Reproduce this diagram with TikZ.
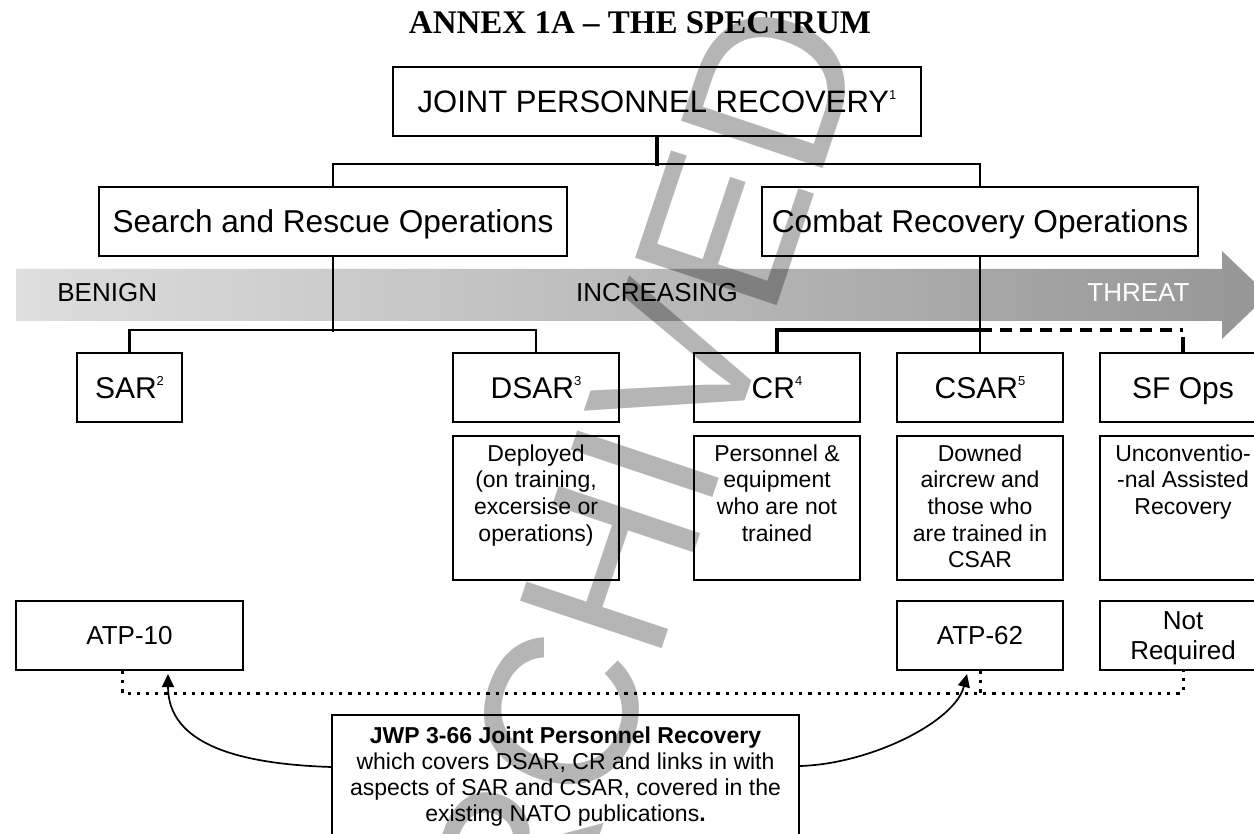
\documentclass[tikz,border=0pt]{standalone}
\usepackage{fontspec}
\setmainfont{Liberation Sans}
\newfontfamily\titleserif{Liberation Serif}
\usetikzlibrary{arrows.meta,calc}
\definecolor{barL}{RGB}{222,222,222}
\definecolor{barR}{RGB}{150,150,150}
\newcommand\supn[1]{\smash{\raisebox{6.6pt}{\fontsize{6.5}{6.5}\selectfont #1}}}
\begin{document}
\begin{tikzpicture}[x=0.5pt,y=-0.5pt,
  bx/.style={draw=black, line width=1.05pt, inner sep=0pt, align=center},
  one/.style={text height=#1, text depth=0pt},
  conn/.style={line width=1.2pt},
  thconn/.style={line width=1.8pt},
  dashc/.style={line width=1.8pt, dash pattern=on 6pt off 4pt},
  dotc/.style={line width=1.5pt, dash pattern=on 1.6pt off 3pt},
  arr/.style={line width=0.85pt, -{Triangle[length=6.5pt,width=6pt]}},
  dtext/.style={inner sep=0pt, align=center, font=\fontsize{11.5}{13.35}\selectfont},
  bartext/.style={inner sep=0pt, font=\fontsize{13}{13}\selectfont},
]
\fill[white] (0,0) rectangle (1254,834);
\useasboundingbox (0,0) rectangle (1254,834);

% title
\node[anchor=base, inner sep=0pt, font=\fontsize{16.5}{16.5}\selectfont\titleserif\bfseries] (title) at (640,34) {ANNEX 1A – THE SPECTRUM};

% spectrum bar
\shade[left color=barL, right color=barR] (16,269) -- (1222,269) -- (1222,251) -- (1268,295) -- (1222,339) -- (1222,321) -- (16,321) -- cycle;
\node[bartext, anchor=base west] (benign) at (57,301.5) {BENIGN};
\node[bartext, anchor=base] (incr) at (657,301.5) {INCREASING};
\node[bartext, anchor=base west, text=white] (threat) at (1087,301.5) {THREAT};

% level 1 and 2
\node[bx, minimum width=264pt, minimum height=34.5pt, font=\fontsize{15.5}{15.5}\selectfont, one=11.1pt] (jpr) at (657,101.5) {JOINT PERSONNEL RECOVERY\supn{1}};
\node[bx, minimum width=234pt, minimum height=34.5pt, font=\fontsize{15.8}{15.8}\selectfont, one=11.3pt] (sro) at (333,221.5) {Search and Rescue Operations};
\node[bx, minimum width=218pt, minimum height=34.5pt, font=\fontsize{15.8}{15.8}\selectfont, one=11.3pt] (cro) at (980,221.5) {Combat Recovery Operations};

% level 3
\node[bx, minimum width=52.5pt, minimum height=34.5pt, font=\fontsize{15}{15}\selectfont, one=10.7pt] (sar) at (129.5,387.5) {SAR\supn{2}};
\node[bx, minimum width=83pt, minimum height=34.5pt, font=\fontsize{15}{15}\selectfont, one=10.7pt] (dsar) at (536,387.5) {DSAR\supn{3}};
\node[bx, minimum width=83pt, minimum height=34.5pt, font=\fontsize{15}{15}\selectfont, one=10.7pt] (cr) at (777,387.5) {CR\supn{4}};
\node[bx, minimum width=83pt, minimum height=34.5pt, font=\fontsize{15}{15}\selectfont, one=10.7pt] (csar) at (980,387.5) {CSAR\supn{5}};
\node[bx, minimum width=83pt, minimum height=34.5pt, font=\fontsize{15}{15}\selectfont, one=10.7pt] (sf) at (1183,387.5) {SF Ops};

% description boxes
\node[bx, minimum width=83pt, minimum height=72pt] (dd) at (536,508) {};
\node[bx, minimum width=83pt, minimum height=72pt] (cd) at (777,508) {};
\node[bx, minimum width=83pt, minimum height=72pt] (csd) at (980,508) {};
\node[bx, minimum width=83pt, minimum height=72pt] (sfd) at (1183,508) {};
\node[dtext, anchor=north] (ddt) at ($(dd.north)+(0,9)$) {Deployed\\(on training,\\excersise or\\operations)};
\node[dtext, anchor=north] (cdt) at ($(cd.north)+(0,9)$) {Personnel \&\\equipment\\who are not\\trained};
\node[dtext, anchor=north] (csdt) at ($(csd.north)+(0,9)$) {Downed\\aircrew and\\those who\\are trained in\\CSAR};
\node[dtext, anchor=north] (sfdt) at ($(sfd.north)+(0,9)$) {Unconventio-\\-nal Assisted\\Recovery};

% publications
\node[bx, minimum width=113.5pt, minimum height=34.5pt, font=\fontsize{13}{13}\selectfont, one=9.3pt] (atp10) at (129.5,635.5) {ATP-10};
\node[bx, minimum width=83pt, minimum height=34.5pt, font=\fontsize{13}{13}\selectfont, one=9.3pt] (atp62) at (980,635.5) {ATP-62};
\node[bx, minimum width=83pt, minimum height=34.5pt, font=\fontsize{13}{15}\selectfont, text depth=0pt] (notreq) at (1183,635.5) {Not\\Required};

\node[bx, minimum width=233.5pt, minimum height=60.5pt] (jwp) at (565.5,775.5) {};
\node[dtext, anchor=north, font=\fontsize{11.5}{13}\selectfont] (jwpt) at ($(jwp.north)+(0,12)$) {\bfseries JWP 3-66 Joint Personnel Recovery\\which covers DSAR, CR and links in with\\aspects of SAR and CSAR, covered in the\\existing NATO publications{\bfseries .}};

% connectors
\draw[thconn] (jpr.south) -- ($(jpr.south)+(0,29)$);
\draw[conn] (sro.north) -- ++(0,-22) -| (cro.north);
\draw[conn] (sro.south) -- ($(sro.south)+(0,75)$);
\draw[conn] (sar.north) -- ++(0,-22) -| (dsar.north);
\draw[conn] (cro.south) -- (csar.north);
\draw[thconn] (cr.north) |- ($(csar.north)+(0,-22)$);
\draw[dashc] ($(csar.north)+(0,-22)$) -- ($(sf.north)+(0,-22)$);
\draw[thconn] ($(sf.north)+(0,-15)$) -- (sf.north);

\draw[dotc] ($(atp10.south)+(-7.5,0)$) -- ++(0,22) -| (notreq.south);
\draw[dotc] (atp62.south) -- ++(0,22);

\draw[arr] ($(jwp.west)+(0,-8.5)$) .. controls (240,764) and (168,745) .. ($(atp10.south)+(38.5,3)$);
\draw[arr] ($(jwp.east)+(0,-9.5)$) .. controls (870,764) and (955,722) .. ($(atp62.south)+(-13,3)$);

% watermark
\node[rotate=71.5, anchor=base, inner sep=0pt, text=black, text opacity=0.29, font=\fontsize{108.5}{108.5}\selectfont] (wm) at (689,568) {ARCHIVED};
\end{tikzpicture}
\end{document}
